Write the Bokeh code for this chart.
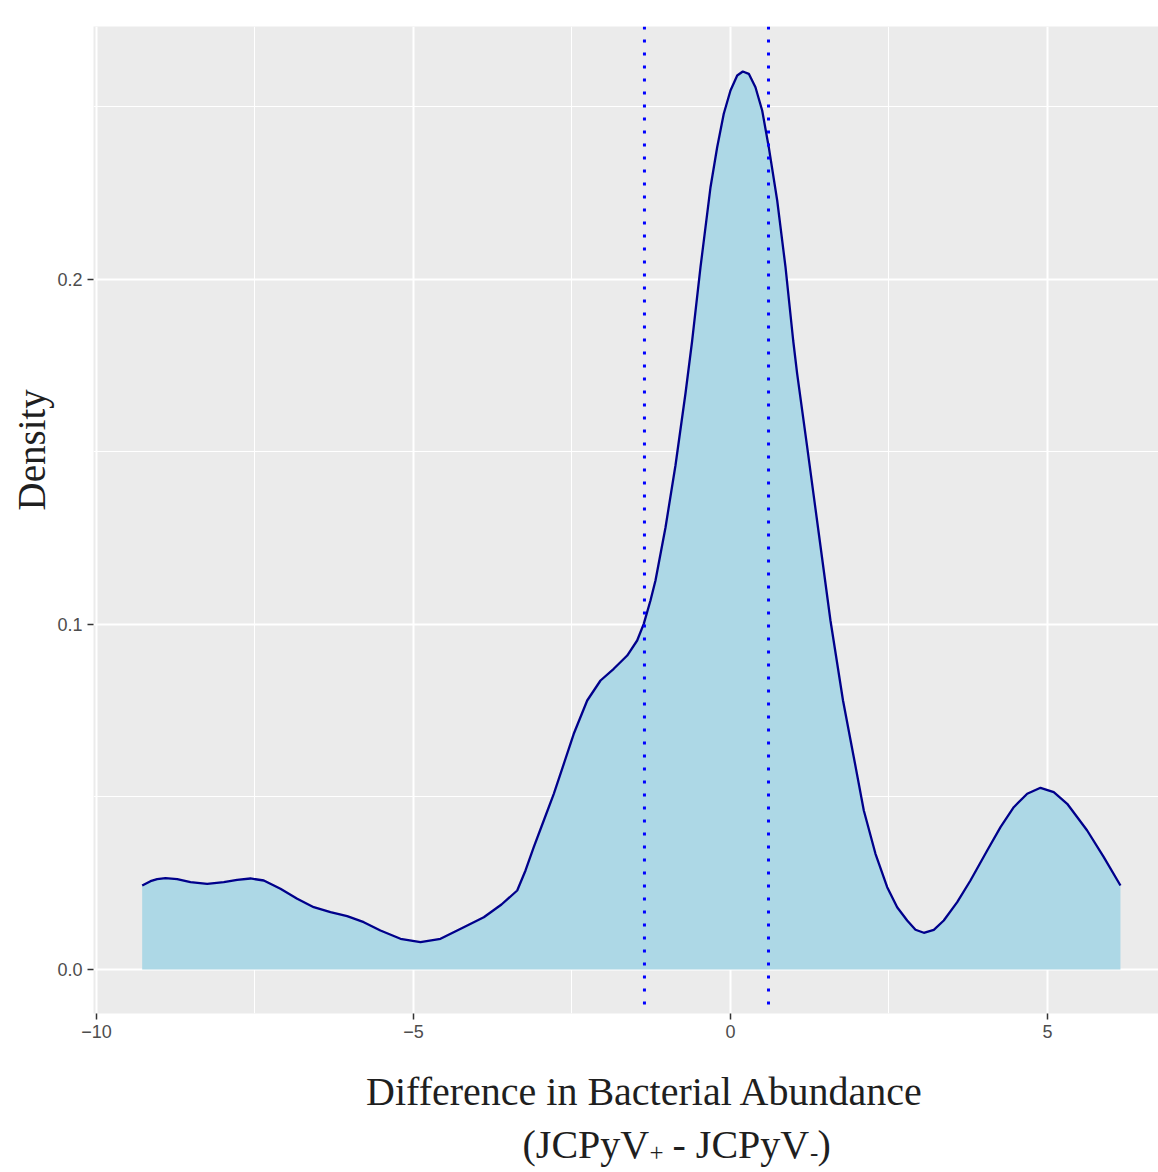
import math
from bokeh.plotting import figure
from bokeh.layouts import column
from bokeh.models import Range1d, FixedTicker, Span, Label, ColumnDataSource, Title
from bokeh.embed import file_html
from bokeh.resources import INLINE

# ---- data ----
diff_x = [-9.279, -9.148, -9.043, -8.912, -8.727, -8.517, -8.254, -7.992, -7.781, -7.571,
          -7.361, -7.098, -6.834, -6.573, -6.309, -6.046, -5.784, -5.521, -5.205, -4.890,
          -4.574, -4.207, -3.891, -3.612, -3.364, -3.233, -3.103, -2.945, -2.787, -2.629,
          -2.472, -2.260, -2.050, -1.841, -1.629, -1.472, -1.368, -1.262, -1.183, -1.025,
          -0.868, -0.710, -0.604, -0.473, -0.315, -0.210, -0.106, 0.000, 0.106, 0.194,
          0.289, 0.394, 0.500, 0.604, 0.737, 0.868, 0.989, 1.052, 1.210, 1.393,
          1.577, 1.775, 1.945, 2.103, 2.287, 2.472, 2.629, 2.787, 2.918, 3.049,
          3.207, 3.364, 3.576, 3.785, 4.049, 4.259, 4.468, 4.680, 4.890, 5.099,
          5.311, 5.626, 5.888, 6.151]
density = [0.02435, 0.02559, 0.02617, 0.02646, 0.02617, 0.02530, 0.02484, 0.02530, 0.02600, 0.02638,
           0.02580, 0.02339, 0.02049, 0.01806, 0.01661, 0.01545, 0.01371, 0.01130, 0.00890, 0.00791,
           0.00890, 0.01226, 0.01516, 0.01884, 0.02290, 0.02870, 0.03545, 0.04319, 0.05093, 0.05962,
           0.06832, 0.07797, 0.08377, 0.08716, 0.09101, 0.09536, 0.10020, 0.10696, 0.11275, 0.12812,
           0.14609, 0.16696, 0.18232, 0.20357, 0.22675, 0.23835, 0.24803, 0.25478, 0.25913, 0.26029,
           0.25962, 0.25574, 0.24899, 0.23835, 0.22290, 0.20357, 0.18232, 0.17267, 0.15139, 0.12638,
           0.10116, 0.07797, 0.06154, 0.04609, 0.03354, 0.02386, 0.01806, 0.01420, 0.01151, 0.01064,
           0.01151, 0.01420, 0.01951, 0.02580, 0.03449, 0.04125, 0.04704, 0.05093, 0.05267, 0.05139,
           0.04803, 0.04029, 0.03255, 0.02435]
vline_x = [-1.357, 0.60]
x_ticks = [-10, -5, 0, 5]
x_minor = [-7.5, -2.5, 2.5]
x_tick_labels = ["\u221210", "\u22125", "0", "5"]
y_ticks = [0.0, 0.1, 0.2]
y_minor = [0.05, 0.15, 0.25]
y_tick_labels = ["0.0", "0.1", "0.2"]

y_title = "Density"
x_title_1 = "Difference in Bacterial Abundance"
x_title_2 = [("(JCPyV", "main"), ("+", "sub"), ("- JCPyV", "main"), ("-", "sub"), (")", "main")]

X0, X1 = -10.047, 6.751
Y0, Y1 = -0.012754, 0.273333

serif = "Liberation Serif"
text_col = "#1F1F1F"

p = figure(width=1158, height=1064, output_backend="svg", toolbar_location=None,
           x_range=Range1d(X0, X1), y_range=Range1d(Y0, Y1),
           min_border_left=93, min_border_right=0, min_border_top=26, min_border_bottom=51)
p.background_fill_color = "#EBEBEB"
p.border_fill_color = "white"
p.outline_line_color = None

src = ColumnDataSource(dict(x=diff_x, y=density, y0=[0] * len(density)))
p.varea(x="x", y1="y0", y2="y", source=src, fill_color="#ADD8E6")
p.line(x="x", y="y", source=src, line_color="#00008B", line_width=2.3)

for vx in vline_x:
    p.add_layout(Span(location=vx, dimension="height", line_color="#0000FF",
                      line_width=3, line_dash="3 10"))

p.xaxis.ticker = FixedTicker(ticks=x_ticks, minor_ticks=x_minor)
p.yaxis.ticker = FixedTicker(ticks=y_ticks, minor_ticks=y_minor)
p.xaxis.major_label_overrides = {t: l for t, l in zip(x_ticks, x_tick_labels)}
p.yaxis.major_label_overrides = {t: l for t, l in zip(y_ticks, y_tick_labels)}

for ax in (p.xaxis, p.yaxis):
    ax.axis_line_color = None
    ax.minor_tick_line_color = None
    ax.major_tick_line_color = "#333333"
    ax.major_tick_line_width = 1.5
    ax.major_tick_out = 6
    ax.major_tick_in = 0
    ax.major_label_text_font = "Liberation Sans"
    ax.major_label_text_font_size = "18px"
    ax.major_label_text_color = "#4D4D4D"
    ax.major_label_standoff = 5

p.grid.grid_line_color = "white"
p.grid.grid_line_width = 2
p.grid.minor_grid_line_color = "white"
p.grid.minor_grid_line_width = 1

# y-axis title as a left-side Title, shifted to the reference's vertical position
p.add_layout(Title(text=y_title, align="left", offset=503, text_font=serif,
                   text_font_size="39px", text_font_style="normal",
                   text_color=text_col, standoff=4), "left")

# x-axis title: a blank strip below the plot; its frame is aligned with the
# main frame (page x 93..1158), so coordinates below are page pixels
strip = figure(width=1158, height=108, output_backend="svg", toolbar_location=None,
               title=None,
               x_range=Range1d(93, 1158), y_range=Range1d(1172, 1064),
               min_border=0, min_border_left=0, min_border_right=0,
               min_border_top=0, min_border_bottom=0)
strip.axis.visible = False
strip.grid.visible = False
strip.outline_line_color = None
strip.background_fill_color = "white"
strip.border_fill_color = "white"

# the rendered baseline sits ~0.4 em below the anchor, so anchors are raised
strip.add_layout(Label(x=644.5, y=1107 - 16, text=x_title_1, text_align="center",
                       text_baseline="alphabetic", text_font=serif,
                       text_font_size="40px", text_color=text_col))

piece_x = [522.0, 649.0, 672.0, 809.5, 817.0]
for (txt, kind), px in zip(x_title_2, piece_x):
    sub = kind == "sub"
    strip.add_layout(Label(x=px, y=(1162 - 10) if sub else (1160 - 16), text=txt,
                           text_align="left", text_baseline="alphabetic", text_font=serif,
                           text_font_size=("25px" if sub else "40px"),
                           text_color=text_col))

layout = column(p, strip, spacing=0)
open("out.html", "w").write(file_html(layout, INLINE))
